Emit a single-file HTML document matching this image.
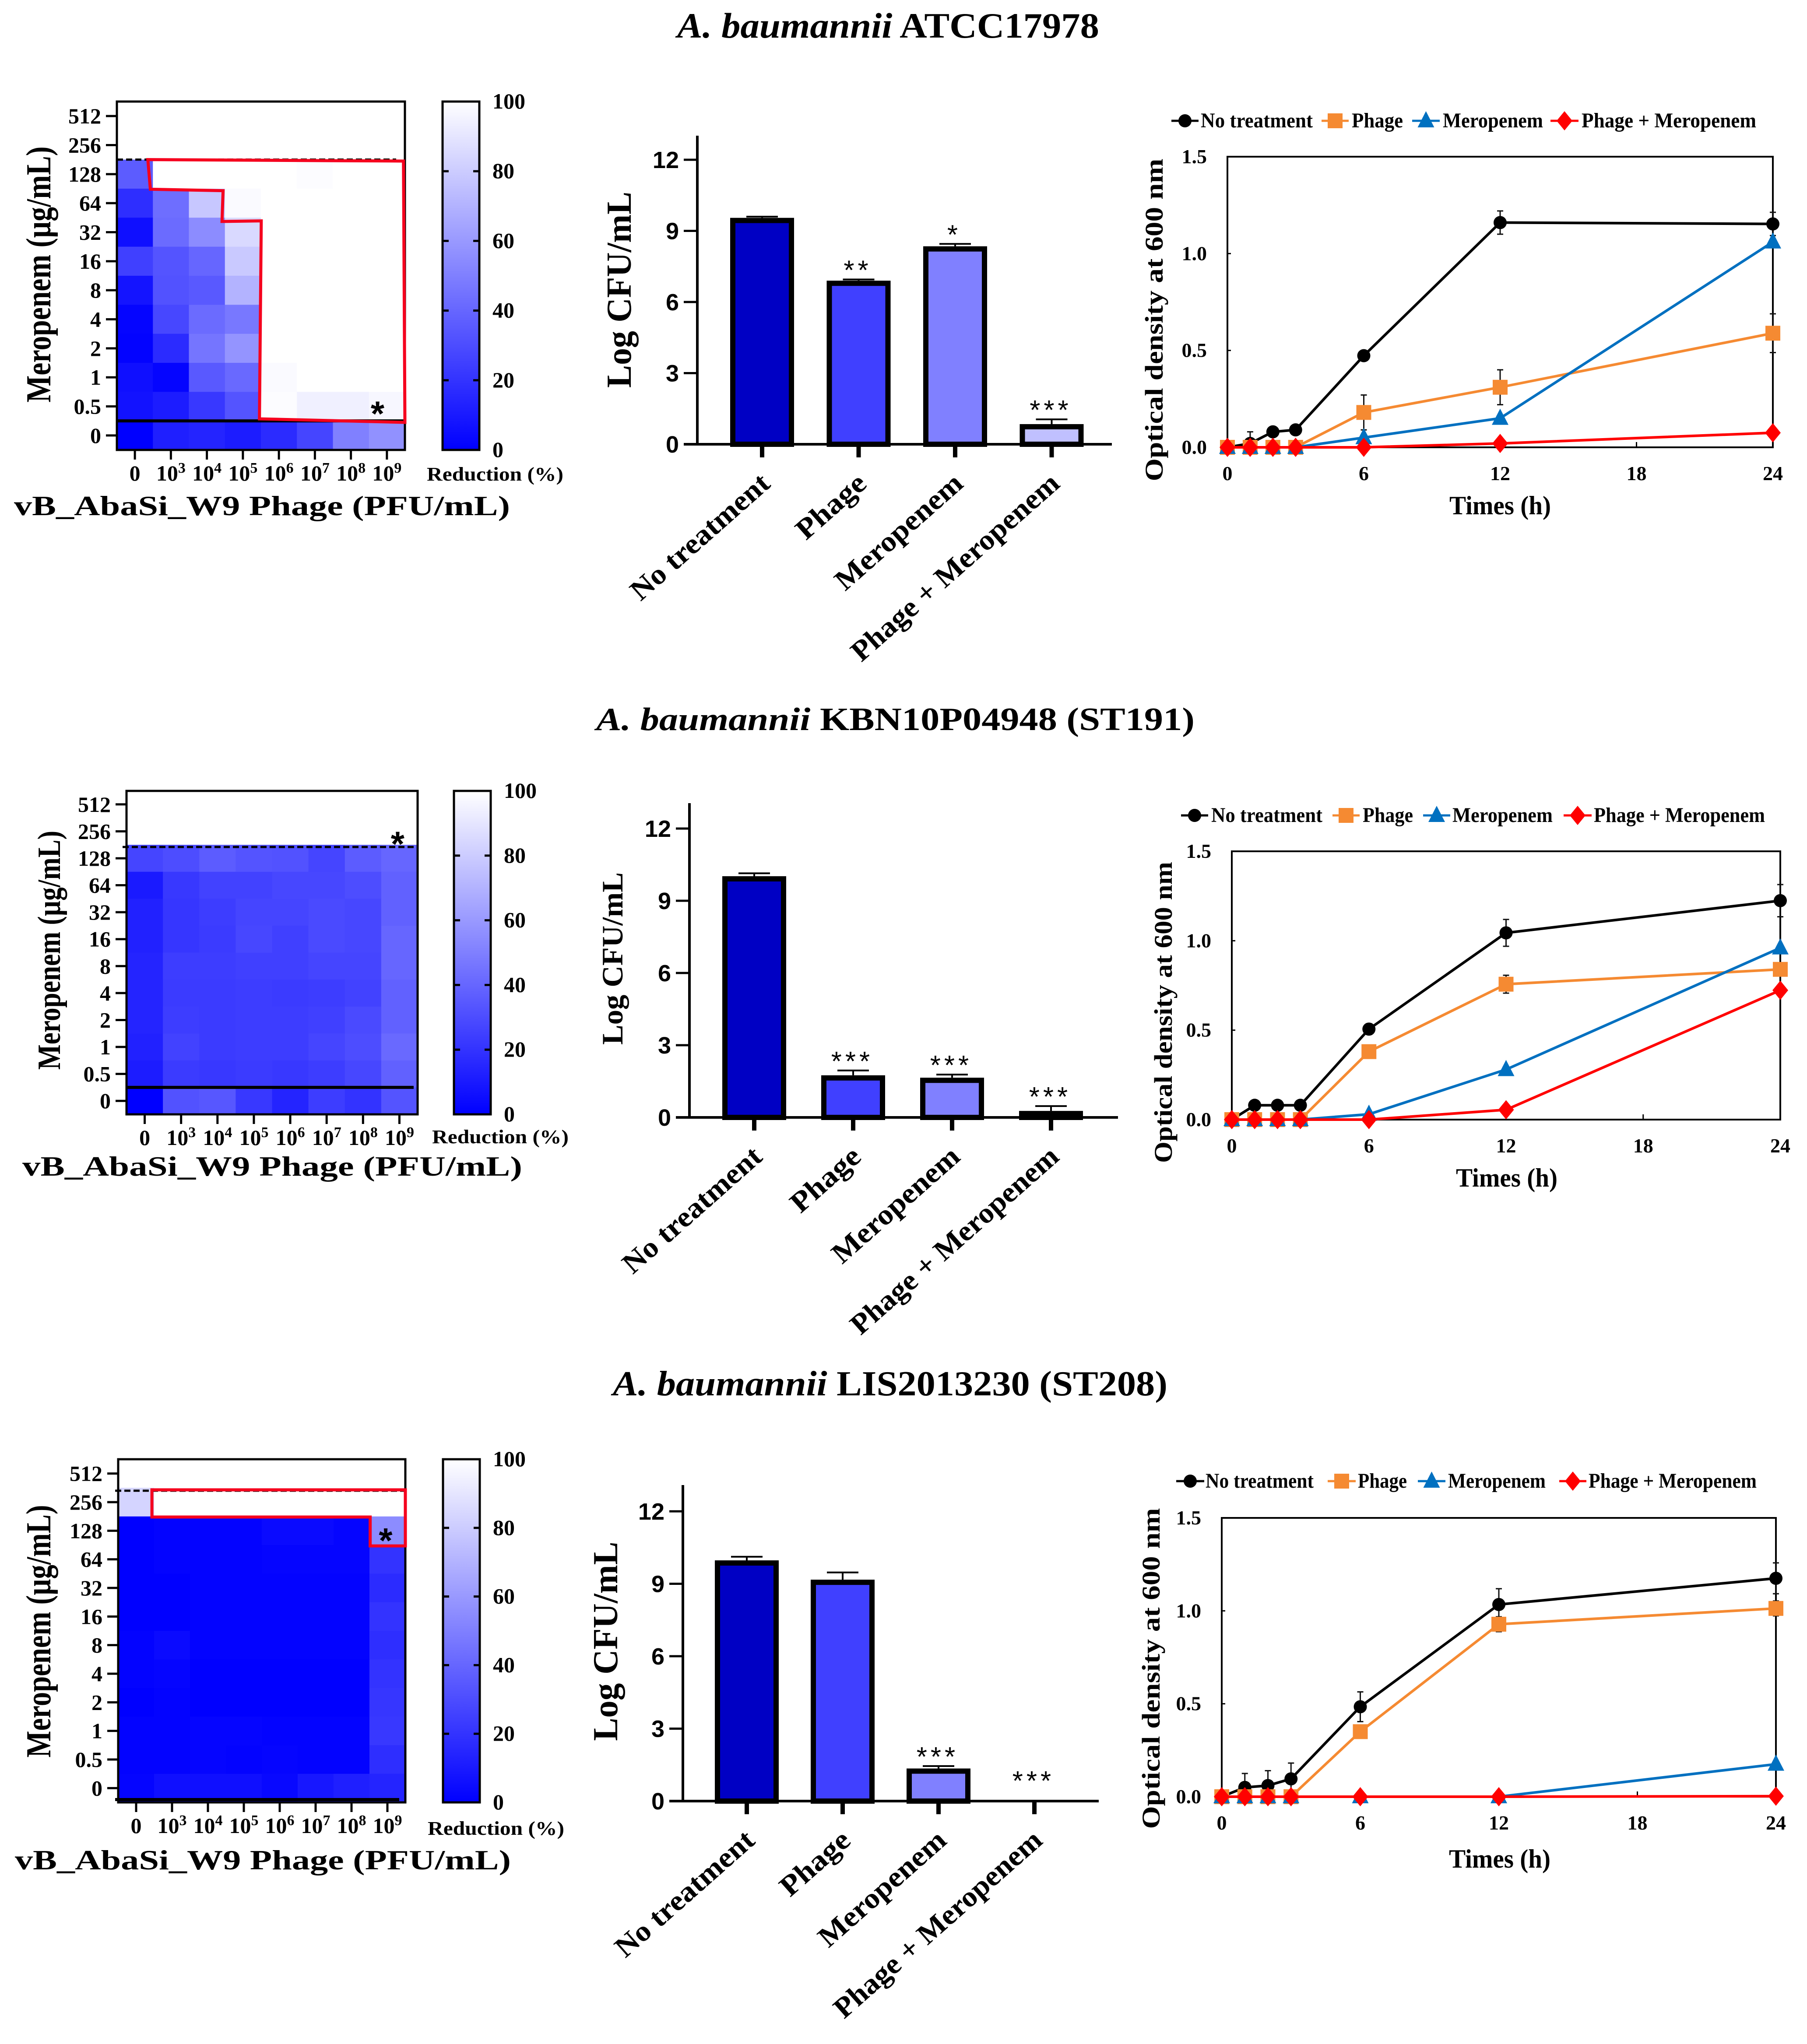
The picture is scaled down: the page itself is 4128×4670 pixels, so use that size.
<!DOCTYPE html>
<html lang="en">
<head>
<meta charset="utf-8">
<title>A. baumannii phage and meropenem synergy panels</title>
<style>
html,body{margin:0;padding:0;background:#fff;}
svg{display:block;font-family:"Liberation Serif",serif;}
</style>
</head>
<body>
<svg id="figure" xmlns="http://www.w3.org/2000/svg" width="4128" height="4670" viewBox="0 0 4128 4670">
<rect width="4128" height="4670" fill="#fff"/>
<text x="1547" y="86" font-size="82" font-weight="bold" textLength="964" lengthAdjust="spacingAndGlyphs"><tspan font-style="italic">A. baumannii</tspan> ATCC17978</text>
<text x="1362" y="1668" font-size="74" font-weight="bold" textLength="1367" lengthAdjust="spacingAndGlyphs"><tspan font-style="italic">A. baumannii</tspan> KBN10P04948 (ST191)</text>
<text x="1400" y="3188" font-size="80" font-weight="bold" textLength="1267" lengthAdjust="spacingAndGlyphs"><tspan font-style="italic">A. baumannii</tspan> LIS2013230 (ST208)</text>
</svg>
<script>
/* ---------- shared categories and tick labels ---------- */
const meropenemLabels = ['512','256','128','64','32','16','8','4','2','1','0.5','0'];
const phageExponents = ['0','3','4','5','6','7','8','9'];
const colorbarTicks = [0,20,40,60,80,100];
const barCategories = ['No treatment','Phage','Meropenem','Phage + Meropenem'];
const barTicks = [0,3,6,9,12];
const hours = [0,1,2,3,6,12,24];
const hourTicks = [0,6,12,18,24];
const odTicks = ['0.0','0.5','1.0','1.5'];
const seriesNames = ['No treatment','Phage','Meropenem','Phage + Meropenem'];

/* ---------- checkerboard reduction (%), rows top to bottom ---------- */
const heatA = [
 [100,100,100,100,100,100,100,100],
 [100,100,100,100,100,100,100,100],
 [36,100,100,100,100,99,100,100],
 [18,43,78,98,100,100,100,100],
 [6,42,55,85,100,100,100,100],
 [25,33,40,79,100,100,100,100],
 [8,32,35,70,100,100,100,100],
 [2,28,42,47,100,100,100,100],
 [1,17,46,58,100,100,100,100],
 [6,2,35,41,98,100,100,100],
 [7,11,22,33,99,94,94,97],
 [0,12,14,11,17,27,50,57]
];
const heatB = [
 [100,100,100,100,100,100,100,100],
 [100,100,100,100,100,100,100,100],
 [27,30,36,33,32,27,36,40],
 [10,22,26,26,28,28,30,38],
 [13,21,24,27,27,29,28,38],
 [13,21,23,28,25,29,28,40],
 [14,24,24,25,25,27,27,40],
 [14,23,23,24,23,24,26,38],
 [14,24,23,24,24,25,29,38],
 [13,26,23,24,24,27,30,41],
 [11,23,22,23,22,24,28,38],
 [0,32,34,22,14,24,20,33]
];
const heatC = [
 [100,100,100,100,100,100,100,100],
 [83,100,100,100,100,100,100,100],
 [0,1,1,1,4,4,2,55],
 [0,1,1,1,2,2,2,20],
 [0,0,1,1,1,1,1,17],
 [0,0,1,1,1,1,1,20],
 [1,4,1,1,1,1,1,18],
 [1,2,0,0,0,0,0,20],
 [0,1,0,0,0,0,0,21],
 [1,1,2,2,1,1,1,22],
 [1,1,2,1,2,1,1,18],
 [2,6,6,6,3,9,12,14]
];
/* synergy outlines as [phage column, meropenem row] in cell units */
const outlineA = [[0.86,2],[7.96,2.05],[8,11.05],[3.96,10.93],[4.01,4.11],[2.92,4.13],[2.95,3.07],[0.93,3.02]];
const outlineC = [[0.94,1.07],[8,1.07],[8,3.03],[7.02,3.03],[7.02,2.02],[0.94,2.02]];

/* ---------- log CFU/mL bars ---------- */
const cfuA = [9.55,6.9,8.35,0.85];
const cfuErrA = [0.05,0.05,0.1,0.2];
const cfuStarsA = ['','**','*','***'];
const cfuB = [10.02,1.75,1.65,0.27];
const cfuErrB = [0.12,0.2,0.13,0.2];
const cfuStarsB = ['','***','***','***'];
const cfuC = [9.97,9.17,1.35,0];
const cfuErrC = [0.15,0.3,0.1,0];
const cfuStarsC = ['','','***','***'];

/* ---------- optical density time courses ---------- */
const odA_none = [0,0.02,0.08,0.09,0.473,1.16,1.153];
const odA_phage = [0,0,0,0,0.18,0.31,0.589];
const odA_mero = [0,0,0,0,0.05,0.15,1.06];
const odA_combo = [0,0,0,0,0,0.02,0.075];
const odErrA_none = [0,0.06,0,0,0,0.06,0.06];
const odErrA_phage = [0,0,0,0,0.09,0.09,0.1];
const odB_none = [0,0.08,0.08,0.08,0.506,1.044,1.224];
const odB_phage = [0,0,0,0,0.38,0.757,0.84];
const odB_mero = [0,0,0,0,0.03,0.28,0.96];
const odB_combo = [0,0,0,0,0,0.055,0.723];
const odErrB_none = [0,0,0,0,0.03,0.075,0.09];
const odErrB_phage = [0,0,0,0,0,0.05,0];
const odC_none = [0,0.05,0.06,0.096,0.484,1.034,1.175];
const odC_phage = [0,0,0,0,0.35,0.928,1.013];
const odC_mero = [0,0,0,0,0,0,0.175];
const odC_combo = [0,0,0,0,0,0,0.003];
const odErrC_none = [0,0.075,0.08,0.085,0.08,0.085,0.083];
const odErrC_phage = [0,0,0,0,0,0.04,0.04];

const NS = 'http://www.w3.org/2000/svg';
const root = document.getElementById('figure');
const SANS = '"Liberation Sans",sans-serif';

function svgEl(tag, attrs, parent, txt){
  const el = document.createElementNS(NS, tag);
  for (const k in attrs) el.setAttribute(k, attrs[k]);
  if (txt !== undefined) el.textContent = txt;
  (parent || root).appendChild(el);
  return el;
}
function heatColor(v){
  const c = Math.round(255 * v / 100);
  return 'rgb(' + c + ',' + c + ',255)';
}

function drawHeatmap(cfg, values, outline){
  const g = svgEl('g', {}, root);
  
  
  const nRows = values.length, nCols = values[0].length;
  const cw = cfg.w / nCols, rh = cfg.h / nRows;
  const colX = c => cfg.x + c * cw;
  const rowY = r => cfg.y + r * rh;
  values.forEach((row, r) => row.forEach((v, c) => {
    const cell = svgEl('rect', {x: colX(c), y: rowY(r), width: cw + 0.6, height: rh + 0.6, fill: heatColor(v)}, g);
    
    
  }));
  const frame = svgEl('rect', {x: cfg.x, y: cfg.y, width: cfg.w, height: cfg.h, fill: 'none', stroke: '#000', 'stroke-width': 5}, g);
  
  
  meropenemLabels.forEach((lab, r) => {
    const y = rowY(r + 0.5);
    const t = svgEl('line', {x1: cfg.x - 25, x2: cfg.x, y1: y, y2: y, stroke: '#000', 'stroke-width': 5}, g);
    
    
    const l = svgEl('text', {x: cfg.x - 36, y: y + 17, 'text-anchor': 'end', 'font-size': 50, 'font-weight': 'bold'}, g, lab);
    
    
  });
  phageExponents.forEach((e, c) => {
    const x = colX(c + 0.5);
    const t = svgEl('line', {x1: x, x2: x, y1: cfg.y + cfg.h, y2: cfg.y + cfg.h + 22, stroke: '#000', 'stroke-width': 5}, g);
    
    
    const l = svgEl('text', {x: x, y: cfg.y + cfg.h + 70, 'text-anchor': 'middle', 'font-size': 50, 'font-weight': 'bold'}, g, e === '0' ? '0' : '10');
    
    
    if (e !== '0') svgEl('tspan', {dy: -18, 'font-size': 34}, l, e);
  });
  const dash = svgEl('line', {x1: cfg.dashX1, x2: cfg.dashX2, y1: rowY(cfg.dashRow), y2: rowY(cfg.dashRow), stroke: '#000', 'stroke-width': 5, 'stroke-dasharray': '14 7'}, g);
  
  
  const solid = svgEl('line', {x1: cfg.solidX1, x2: cfg.solidX2, y1: rowY(cfg.solidRow), y2: rowY(cfg.solidRow), stroke: '#000', 'stroke-width': 7}, g);
  
  
  if (outline) {
    const poly = svgEl('polygon', {points: outline.map(p => colX(p[0]) + ',' + rowY(p[1])).join(' '), fill: 'none', stroke: '#f5001e', 'stroke-width': 7}, g);
    
    
  }
  const star = svgEl('text', {x: colX(cfg.starCol), y: rowY(cfg.starRow) + 44, 'text-anchor': 'middle', 'font-size': 80, 'font-weight': 'bold', 'font-family': SANS}, g, '*');
  
  

  const grad = svgEl('linearGradient', {id: cfg.name + '-grad', x1: 0, x2: 0, y1: 1, y2: 0}, g);
  svgEl('stop', {offset: '0', 'stop-color': heatColor(0)}, grad);
  svgEl('stop', {offset: '1', 'stop-color': heatColor(100)}, grad);
  const bar = svgEl('rect', {x: cfg.cbX, y: cfg.y, width: cfg.cbW, height: cfg.h, fill: 'url(#' + cfg.name + '-grad)', stroke: '#000', 'stroke-width': 5}, g);
  
  
  colorbarTicks.forEach(v => {
    const y = cfg.y + cfg.h - v / 100 * cfg.h;
    if (v > 0 && v < 100) {
      const a = svgEl('line', {x1: cfg.cbX, x2: cfg.cbX + 14, y1: y, y2: y, stroke: '#000', 'stroke-width': 5}, g);
      
      
      const b = svgEl('line', {x1: cfg.cbX + cfg.cbW - 14, x2: cfg.cbX + cfg.cbW, y1: y, y2: y, stroke: '#000', 'stroke-width': 5}, g);
      
      
    }
    const l = svgEl('text', {x: cfg.cbX + cfg.cbW + 30, y: y + 16, 'font-size': 50, 'font-weight': 'bold'}, g, String(v));
    
    
  });
  const red = svgEl('text', {x: cfg.redX, y: cfg.redY, 'font-size': 44, 'font-weight': 'bold', textLength: 312, lengthAdjust: 'spacingAndGlyphs'}, g, 'Reduction (%)');
  
  
  const xt = svgEl('text', {x: cfg.xTitleX, y: cfg.xTitleY, 'font-size': 64, 'font-weight': 'bold', textLength: cfg.xTitleLen, lengthAdjust: 'spacingAndGlyphs'}, g, 'vB_AbaSi_W9 Phage (PFU/mL)');
  
  
  const yt = svgEl('text', {x: cfg.yTitleX, y: cfg.yTitleC, 'text-anchor': 'middle', 'font-size': cfg.yTitleFs, 'font-weight': 'bold', textLength: cfg.yTitleLen, lengthAdjust: 'spacingAndGlyphs', transform: 'rotate(-90 ' + cfg.yTitleX + ' ' + cfg.yTitleC + ')'}, g, 'Meropenem (µg/mL)');
  
  
}

const barFills = ['#0000c4','#4040ff','#8080ff','#c0c0ff'];
const catLengths = [400,190,365,610];

function drawBars(cfg, values, errors, stars){
  const g = svgEl('g', {}, root);
  
  
  const yScale = v => cfg.y0 - (v / 12) * (cfg.y0 - cfg.y12);
  const xScale = i => cfg.firstX + i * cfg.stepX;
  const bw = 146, sw = 12;
  values.forEach((v, i) => {
    const cx = xScale(i);
    if (errors[i] > 0) {
      const e = svgEl('line', {x1: cx, x2: cx, y1: yScale(v), y2: yScale(v + errors[i]), stroke: '#000', 'stroke-width': 4}, g);
      
      
      const ec = svgEl('line', {x1: cx - 36, x2: cx + 36, y1: yScale(v + errors[i]), y2: yScale(v + errors[i]), stroke: '#000', 'stroke-width': 4}, g);
      
      
    }
    if (v > 0) {
      const b = svgEl('rect', {x: cx - bw / 2 + sw / 2, y: yScale(v) + sw / 2, width: bw - sw, height: Math.max(0, yScale(0) - yScale(v) - sw / 2), fill: barFills[i], stroke: '#000', 'stroke-width': sw}, g);
      
      
    }
    const t = svgEl('line', {x1: cx, x2: cx, y1: cfg.y0, y2: cfg.y0 + 30, stroke: '#000', 'stroke-width': 10}, g);
    
    
    const l = svgEl('text', {x: cx + 22, y: cfg.y0 + 95, 'text-anchor': 'end', 'font-size': 66, 'font-weight': 'bold', textLength: catLengths[i], lengthAdjust: 'spacingAndGlyphs', transform: 'rotate(-41.5 ' + (cx + 22) + ' ' + (cfg.y0 + 95) + ')'}, g, barCategories[i]);
    
    
    if (stars[i]) {
      const s = svgEl('text', {x: cx - 2, y: yScale(v + errors[i]) - (errors[i] > 0 ? 0 : 25), 'text-anchor': 'middle', 'font-size': 62, 'font-family': SANS, 'letter-spacing': 8}, g, stars[i]);
      
      
    }
  });
  const ya = svgEl('line', {x1: cfg.axisX, x2: cfg.axisX, y1: cfg.top, y2: cfg.y0, stroke: '#000', 'stroke-width': 6}, g);
  
  
  const xa = svgEl('line', {x1: cfg.axisX - 31, x2: cfg.xEnd, y1: cfg.y0, y2: cfg.y0, stroke: '#000', 'stroke-width': 6}, g);
  
  
  barTicks.forEach(v => {
    const y = yScale(v);
    const t = svgEl('line', {x1: cfg.axisX - 31, x2: cfg.axisX, y1: y, y2: y, stroke: '#000', 'stroke-width': 5}, g);
    
    
    const l = svgEl('text', {x: cfg.axisX - 42, y: y + 19, 'text-anchor': 'end', 'font-size': 54, 'font-weight': 'bold', 'font-family': SANS}, g, String(v));
    
    
  });
  const yt = svgEl('text', {x: cfg.titleX, y: cfg.titleC, 'text-anchor': 'middle', 'font-size': cfg.titleFs, 'font-weight': 'bold', textLength: cfg.titleLen, lengthAdjust: 'spacingAndGlyphs', transform: 'rotate(-90 ' + cfg.titleX + ' ' + cfg.titleC + ')'}, g, 'Log CFU/mL');
  
  
}

const seriesColors = ['#000000','#f58a32','#0070c0','#ff0000'];
const seriesShapes = ['circle','square','triangle','diamond'];

function marker(g, shape, x, y, color){
  if (shape === 'circle') return svgEl('circle', {cx: x, cy: y, r: 15, fill: color}, g);
  if (shape === 'square') return svgEl('rect', {x: x - 17, y: y - 17, width: 34, height: 34, fill: color}, g);
  if (shape === 'triangle') return svgEl('polygon', {points: (x - 19) + ',' + (y + 15) + ' ' + (x + 19) + ',' + (y + 15) + ' ' + x + ',' + (y - 22), fill: color}, g);
  return svgEl('polygon', {points: x + ',' + (y - 22) + ' ' + (x + 18) + ',' + y + ' ' + x + ',' + (y + 22) + ' ' + (x - 18) + ',' + y, fill: color}, g);
}

function drawLines(cfg, series, errNone, errPhage){
  const g = svgEl('g', {}, root);
  
  
  const xScale = h => cfg.x + h / 24 * cfg.w;
  const yScale = v => cfg.y + cfg.h - v / 1.5 * cfg.h;
  const frame = svgEl('path', {d: 'M' + cfg.x + ' ' + (cfg.y + cfg.h) + 'V' + cfg.y + 'H' + (cfg.x + cfg.w) + 'V' + (cfg.y + cfg.h) + 'Z', fill: 'none', stroke: '#000', 'stroke-width': 4}, g);
  
  
  hourTicks.forEach(h => {
    const x = xScale(h);
    const t = svgEl('line', {x1: x, x2: x, y1: cfg.y + cfg.h, y2: cfg.y + cfg.h - 12, stroke: '#000', 'stroke-width': 3}, g);
    
    
    const l = svgEl('text', {x: x, y: cfg.y + cfg.h + 75, 'text-anchor': 'middle', 'font-size': 46, 'font-weight': 'bold'}, g, String(h));
    
    
  });
  odTicks.forEach(lab => {
    const y = yScale(parseFloat(lab));
    const t = svgEl('line', {x1: cfg.x, x2: cfg.x + 8, y1: y, y2: y, stroke: '#000', 'stroke-width': 3}, g);
    
    
    const l = svgEl('text', {x: cfg.x - 47, y: y + 15, 'text-anchor': 'end', 'font-size': 46, 'font-weight': 'bold'}, g, lab);
    
    
  });
  const errs = [errNone, errPhage];
  errs.forEach((arr) => {
    const base = arr === errNone ? series[0] : series[1];
    arr.forEach((e, i) => {
      if (e <= 0) return;
      const x = xScale(hours[i]);
      const v = svgEl('line', {x1: x, x2: x, y1: yScale(base[i] + e), y2: yScale(Math.max(0, base[i] - e)), stroke: '#111', 'stroke-width': 3}, g);
      
      
      const c1 = svgEl('line', {x1: x - 7, x2: x + 7, y1: yScale(base[i] + e), y2: yScale(base[i] + e), stroke: '#111', 'stroke-width': 3}, g);
      
      
      const c2 = svgEl('line', {x1: x - 7, x2: x + 7, y1: yScale(Math.max(0, base[i] - e)), y2: yScale(Math.max(0, base[i] - e)), stroke: '#111', 'stroke-width': 3}, g);
      
      
    });
  });
  series.forEach((vals, s) => {
    const line = svgEl('polyline', {points: vals.map((v, i) => xScale(hours[i]) + ',' + yScale(v)).join(' '), fill: 'none', stroke: seriesColors[s], 'stroke-width': 6}, g);
    
    
    vals.forEach((v, i) => {
      const m = marker(g, seriesShapes[s], xScale(hours[i]), yScale(v), seriesColors[s]);
      
      
    });
  });
  const xt = svgEl('text', {x: cfg.xTitleC, y: cfg.xTitleY, 'text-anchor': 'middle', 'font-size': 60, 'font-weight': 'bold', textLength: 232, lengthAdjust: 'spacingAndGlyphs'}, g, 'Times (h)');
  
  
  const yt = svgEl('text', {x: cfg.yTitleX, y: cfg.yTitleC, 'text-anchor': 'middle', 'font-size': 58, 'font-weight': 'bold', textLength: cfg.yTitleLen, lengthAdjust: 'spacingAndGlyphs', transform: 'rotate(-90 ' + cfg.yTitleX + ' ' + cfg.yTitleC + ')'}, g, 'Optical density at 600 nm');
  
  
  seriesNames.forEach((nm, s) => {
    const e = cfg.legend[s];
    const ln = svgEl('line', {x1: e[0], x2: e[1], y1: cfg.legendY, y2: cfg.legendY, stroke: seriesColors[s], 'stroke-width': 5}, g);
    
    
    const mk = marker(g, seriesShapes[s], (e[0] + e[1]) / 2, cfg.legendY, seriesColors[s]);
    
    
    const tx = svgEl('text', {x: e[2], y: cfg.legendY + 15, 'font-size': 48, 'font-weight': 'bold', textLength: e[3] - e[2], lengthAdjust: 'spacingAndGlyphs'}, g, nm);
    
    
  });
}

/* ---------- row 1 ---------- */
drawHeatmap({name:'heatmap-atcc17978',x:267,y:232,w:658,h:796,cbX:1011,cbW:84,dashRow:2,dashX1:267,dashX2:905,solidRow:11,solidX1:265,solidX2:925,starCol:7.24,starRow:10.5,redX:975,redY:1098,xTitleX:32,xTitleY:1177,xTitleLen:1133,yTitleX:115,yTitleC:627,yTitleFs:80,yTitleLen:585}, heatA, outlineA);
drawBars({name:'bars-atcc17978',axisX:1593,top:310,y0:1015,y12:365,firstX:1741,stepX:220.5,xEnd:2540,titleX:1441,titleC:662,titleFs:80,titleLen:448}, cfuA, cfuErrA, cfuStarsA);
drawLines({name:'growth-atcc17978',x:2804,y:358,w:1246,h:664,xTitleC:3427,xTitleY:1175,yTitleX:2656,yTitleC:731,yTitleLen:737,legendY:276,legend:[[2676,2738,2743,2999],[3019,3081,3088,3205],[3226,3289,3296,3525],[3542,3606,3613,4012]]}, [odA_none,odA_phage,odA_mero,odA_combo], odErrA_none, odErrA_phage);

/* ---------- row 2 ---------- */
drawHeatmap({name:'heatmap-kbn10p04948',x:289,y:1807,w:665,h:739,cbX:1037,cbW:84,dashRow:2.08,dashX1:280,dashX2:950,solidRow:11,solidX1:290,solidX2:945,starCol:7.45,starRow:1.7,redX:987,redY:2612,xTitleX:51,xTitleY:2686,xTitleLen:1142,yTitleX:137,yTitleC:2171,yTitleFs:74,yTitleLen:546}, heatB, null);
drawBars({name:'bars-kbn10p04948',axisX:1575,top:1835,y0:2553,y12:1893,firstX:1723,stepX:226,xEnd:2554,titleX:1422,titleC:2190,titleFs:68,titleLen:394}, cfuB, cfuErrB, cfuStarsB);
drawLines({name:'growth-kbn10p04948',x:2814,y:1945,w:1253,h:613,xTitleC:3442,xTitleY:2711,yTitleX:2677,yTitleC:2313,yTitleLen:688,legendY:1863,legend:[[2698,2760,2767,3021],[3044,3106,3113,3228],[3251,3313,3318,3547],[3572,3636,3641,4032]]}, [odB_none,odB_phage,odB_mero,odB_combo], odErrB_none, odErrB_phage);

/* ---------- row 3 ---------- */
drawHeatmap({name:'heatmap-lis2013230',x:270,y:3334,w:656,h:784,cbX:1012,cbW:84,dashRow:1.1,dashX1:263,dashX2:926,solidRow:11.9,solidX1:263,solidX2:912,starCol:7.45,starRow:2.59,redX:977,redY:4192,xTitleX:34,xTitleY:4271,xTitleLen:1133,yTitleX:115,yTitleC:3727,yTitleFs:80,yTitleLen:577}, heatC, outlineC);
drawBars({name:'bars-lis2013230',axisX:1560,top:3393,y0:4115,y12:3453,firstX:1706,stepX:219,xEnd:2510,titleX:1410,titleC:3750,titleFs:80,titleLen:455}, cfuC, cfuErrC, cfuStarsC);
drawLines({name:'growth-lis2013230',x:2791,y:3468,w:1266,h:637,xTitleC:3426,xTitleY:4267,yTitleX:2649,yTitleC:3812,yTitleLen:733,legendY:3384,legend:[[2687,2751,2754,3001],[3033,3097,3102,3214],[3239,3302,3308,3531],[3562,3624,3629,4013]]}, [odC_none,odC_phage,odC_mero,odC_combo], odErrC_none, odErrC_phage);
</script>
</body>
</html>
